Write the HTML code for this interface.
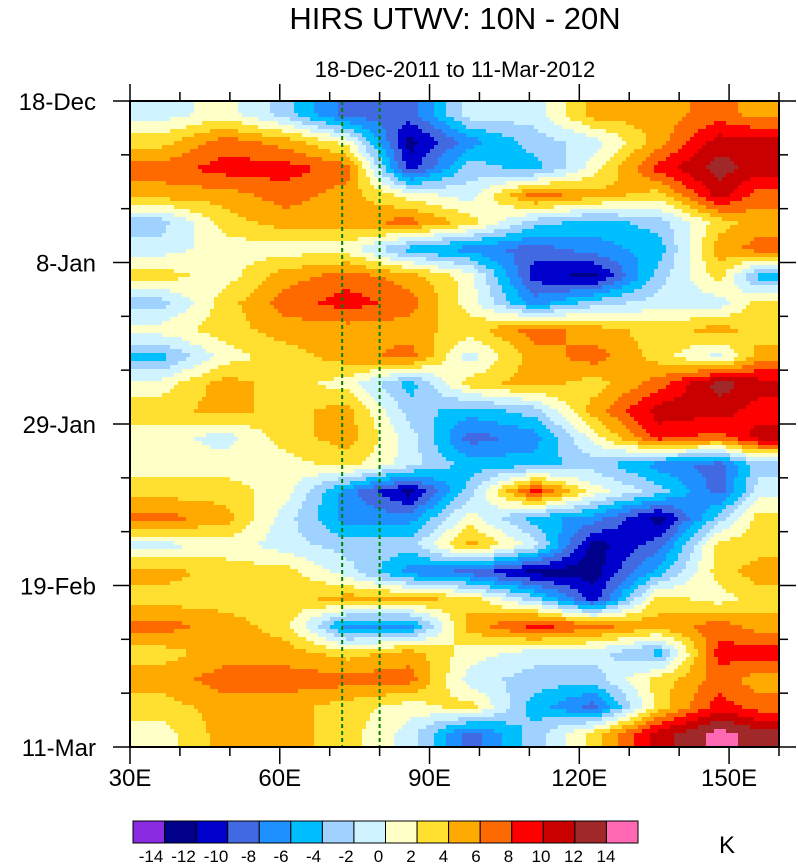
<!DOCTYPE html>
<html><head><meta charset="utf-8"><style>
body{margin:0;background:#fff;}
svg text{font-family:"Liberation Sans",sans-serif;}
</style></head><body>
<svg id="chart" width="798" height="863" xmlns="http://www.w3.org/2000/svg">
<text x="455" y="29" font-size="31" text-anchor="middle">HIRS UTWV: 10N - 20N</text>
<text x="455" y="77" font-size="22" text-anchor="middle">18-Dec-2011 to 11-Mar-2012</text>
<g id="cells"></g>
<g id="axes"></g>
<g id="cbar"></g>
</svg>
<script>
const lons = [36,49,61,73.5,86,98,111,123,136,148,156];
const xTickLabels = ["30E","60E","90E","120E","150E"];
const xTickValues = [30,60,90,120,150];
const yTickLabels = ["18-Dec","8-Jan","29-Jan","19-Feb","11-Mar"];
const yTickDays = [0,21,42,63,84];
const dashLons = [72.5,80];
const levels = [-14,-12,-10,-8,-6,-4,-2,0,2,4,6,8,10,12,14];
const colors = ["#8a2be2","#00008b","#0000cd","#4169e1","#1e90ff","#00bfff","#a0d2ff","#cff3ff","#ffffc8","#ffdf30","#ffaa00","#ff6a00","#ff0000","#c80000","#a02828","#ff69b4"];
const anomalies = [
[-1,1,-3,-9,-9,-1,-1,5,5,7,5],
[3,7,5,1,-13,-7,-3,-1,5,11,11],
[7,9,9,7,-11,-3,-5,1,9,13,11],
[5,5,7,5,1,-1,7,5,3,11,7],
[-3,3,5,5,7,3,-3,-5,-3,3,5],
[-1,1,1,1,-5,-7,-9,-7,-5,5,7],
[3,1,5,7,5,1,-11,-13,-3,3,-5],
[-3,3,7,9,7,1,-7,-3,-1,-1,3],
[1,3,5,5,5,3,7,5,3,5,3],
[-5,1,3,5,7,-1,5,7,3,-1,5],
[1,5,3,1,-5,3,5,3,7,13,11],
[3,5,3,5,-3,-5,-3,5,11,11,9],
[1,-1,3,5,-1,-9,-7,1,9,7,11],
[1,1,1,3,-1,-5,-5,-3,-7,-9,-3],
[3,3,1,-7,-13,-3,9,1,-3,-9,-1],
[7,5,-1,-7,-7,1,-5,-7,-13,-3,3],
[-1,1,-1,-3,-3,5,-1,-13,-9,3,3],
[5,3,3,-1,-7,-9,-13,-13,-5,3,5],
[3,3,3,5,5,3,-3,-11,3,1,3],
[7,5,3,-7,-7,5,9,7,5,7,5],
[3,5,5,3,5,1,-1,-1,-5,9,9],
[5,7,7,7,7,-1,-3,-3,3,7,5],
[3,5,5,3,1,3,-5,-9,3,9,7],
[1,5,5,3,-1,-9,-3,3,11,15,13]
];
const rowDays = anomalies.map((r,i)=>(i+0.5)*3.5);

const X0=130,X1=779,Y0=101,Y1=747;
const xs = lon => X0+(lon-30)*(X1-X0)/130;
const ys = d => Y0+d*(Y1-Y0)/84;
const NS="http://www.w3.org/2000/svg";
function mk(tag,parent){const e=document.createElementNS(NS,tag);parent.appendChild(e);return e;}
function colorOf(v){let k=0;while(k<levels.length&&v>=levels[k])k++;return colors[k];}
function locate(arr,v){
  if(v<=arr[0])return [0,0,0];
  if(v>=arr[arr.length-1])return [arr.length-1,arr.length-1,0];
  let i=0;while(arr[i+1]<v)i++;
  return [i,i+1,(v-arr[i])/(arr[i+1]-arr[i])];
}
function interp(lon,day){
  const [i0,i1,tx]=locate(lons,lon);
  const [j0,j1,ty]=locate(rowDays,day);
  const a=anomalies[j0][i0]*(1-tx)+anomalies[j0][i1]*tx;
  const b=anomalies[j1][i0]*(1-tx)+anomalies[j1][i1]*tx;
  return a*(1-ty)+b*ty;
}
const cells=document.getElementById('cells');
const step=4;
function addRun(x0,x1,y,h,col){
  const r=mk('rect',cells);
  
  
  r.setAttribute('x',x0);r.setAttribute('y',y);
  r.setAttribute('width',x1-x0+0.5);r.setAttribute('height',h+0.5);
  r.setAttribute('fill',col);
}
for(let y=Y0;y<Y1;y+=step){
  const h=Math.min(step,Y1-y);
  const day=(y+h/2-Y0)*84/(Y1-Y0);
  let runStart=X0,runCol=null;
  for(let x=X0;x<X1;x+=step){
    const w=Math.min(step,X1-x);
    const lon=30+(x+w/2-X0)*130/(X1-X0);
    const col=colorOf(interp(lon,day));
    if(col!==runCol){
      if(runCol) addRun(runStart,x,y,h,runCol);
      runStart=x;runCol=col;
    }
  }
  if(runCol) addRun(runStart,X1,y,h,runCol);
}
const axes=document.getElementById('axes');
function line(x1,y1,x2,y2,w,p){const l=mk('line',p||axes);l.setAttribute('x1',x1);l.setAttribute('y1',y1);l.setAttribute('x2',x2);l.setAttribute('y2',y2);l.setAttribute('stroke','#000');l.setAttribute('stroke-width',w);return l;}
dashLons.forEach(lon=>{
  const l=line(xs(lon),Y0,xs(lon),Y1,2);
  l.setAttribute('stroke','#008000');l.setAttribute('stroke-dasharray','4,3');
  
  
});
const fr=mk('rect',axes);


fr.setAttribute('x',X0);fr.setAttribute('y',Y0);fr.setAttribute('width',X1-X0);fr.setAttribute('height',Y1-Y0);
fr.setAttribute('fill','none');fr.setAttribute('stroke','#000');fr.setAttribute('stroke-width',2);
for(let lon=30;lon<=160;lon+=10){
  const major=xTickValues.includes(lon);const L=major?17:9;
  line(xs(lon),Y1,xs(lon),Y1+L,1.5);line(xs(lon),Y0,xs(lon),Y0-L,1.5);
}
for(let d=0;d<=84;d+=7){
  const major=yTickDays.includes(d);const L=major?17:9;
  line(X0,ys(d),X0-L,ys(d),1.5);line(X1,ys(d),X1+L,ys(d),1.5);
}
xTickLabels.forEach((t,i)=>{
  const e=mk('text',axes);
  
  
  e.setAttribute('x',xs(xTickValues[i]));e.setAttribute('y',786);e.setAttribute('font-size',24);e.setAttribute('text-anchor','middle');e.textContent=t;
});
yTickLabels.forEach((t,i)=>{
  const e=mk('text',axes);
  
  
  e.setAttribute('x',96);e.setAttribute('y',ys(yTickDays[i])+9);e.setAttribute('font-size',24);e.setAttribute('text-anchor','end');e.textContent=t;
});
const cb=document.getElementById('cbar');
const CB0=133,CBW=(638-133)/16;
colors.forEach((c,i)=>{
  const r=mk('rect',cb);
  
  
  r.setAttribute('x',CB0+i*CBW);r.setAttribute('y',821);r.setAttribute('width',CBW);r.setAttribute('height',22);
  r.setAttribute('fill',c);r.setAttribute('stroke','#000');r.setAttribute('stroke-width',1);
});
levels.forEach((v,i)=>{
  const e=mk('text',cb);
  
  
  e.setAttribute('x',151+32.5*i);e.setAttribute('y',862);e.setAttribute('font-size',17);e.setAttribute('text-anchor','middle');e.textContent=v;
});
const k=mk('text',cb);


k.setAttribute('x',727);k.setAttribute('y',853);k.setAttribute('font-size',24);k.setAttribute('text-anchor','middle');k.textContent='K';
</script>
</body></html>
